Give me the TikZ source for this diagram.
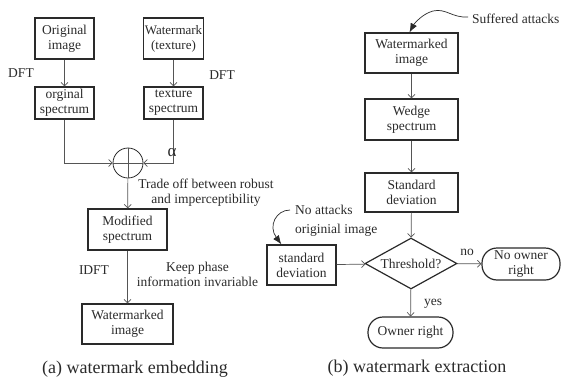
\documentclass[tikz,border=0pt]{standalone}
\usepackage{fontspec}
\setmainfont{Liberation Serif}
\usetikzlibrary{arrows.meta,shapes.geometric,calc}
\definecolor{ink}{HTML}{2A2A2A}
\definecolor{wire}{HTML}{555555}
\begin{document}
\begin{tikzpicture}[x=1pt,y=-1pt,
  txt/.style={font=\fontsize{13.5}{15}\selectfont, text=ink, align=center, inner sep=0pt},
  box/.style={txt, draw=ink, line width=1.3pt, minimum width=#1, inner sep=1pt},
  box/.default=59pt,
  conn/.style={draw=wire, line width=0.7pt, -{Straight Barb[length=3.5pt,width=7pt,line width=0.7pt]}},
  plain/.style={draw=wire, line width=0.7pt},
  curvy/.style={draw=ink, line width=0.7pt, -{Latex[length=9pt,width=7pt]}},
  captext/.style={font=\fontsize{18}{20}\selectfont, text=ink, inner sep=0pt}
]
\useasboundingbox (0,0) rectangle (562,383);

% ---------- (a) embedding ----------
\node[box, minimum height=41pt] (orig) at (64.5,38.5) {Original\\image};
\node[box, minimum height=41pt, font=\fontsize{13}{15}\selectfont] (wm) at (173.5,38.5) {Watermark\\(texture)};
\node[box, minimum height=32pt] (ospec) at (64.5,103) {orginal\\spectrum};
\node[box, minimum height=32pt] (tspec) at (173.5,103) {texture\\spectrum};
\node[circle, draw=ink, line width=0.8pt, minimum size=30pt, inner sep=0pt] (plus) at (128,163) {};
\draw[plain] (plus.north) -- (plus.south);
\draw[plain] (plus.west) -- (plus.east);
\node[box=79pt, minimum height=41pt] (mod) at (127.5,229.5) {Modified\\spectrum};
\node[box=91pt, minimum height=40pt] (wimg) at (127.5,324) {Watermarked\\image};

\draw[conn] (orig) -- (ospec);
\draw[conn] (wm) -- (tspec);
\node[txt] (dft1) at (21,73) {DFT};
\node[txt] (dft2) at (222,75) {DFT};
\draw[conn] (ospec.south) |- (plus.west);
\draw[conn] (tspec.south) |- (plus.east);
\node[txt, font=\fontsize{17}{17}\selectfont] (alpha) at (172,153) {α};
\draw[conn] (plus) -- (mod);
\node[txt] (trade) at (206,193) {Trade off between robust\\and imperceptibility};
\draw[conn] (mod) -- (wimg);
\node[txt] (idft) at (94,270) {IDFT};
\node[txt] (keep) at (197.5,274.5) {Keep phase\\information invariable};
\node[captext] (capa) at (135,369) {(a) watermark embedding};

% ---------- (b) extraction ----------
\node[box=93pt, minimum height=40pt] (rwimg) at (411.5,53) {Watermarked\\image};
\node[box=93pt, minimum height=41pt] (wedge) at (411.5,119.5) {Wedge\\spectrum};
\node[box=93pt, minimum height=39pt] (sd) at (411.5,192.5) {Standard\\deviation};
\node[txt, draw=ink, line width=1.2pt, shape=diamond, aspect=1.8, minimum width=92pt, minimum height=51pt] (thr) at (411,263.5) {Threshold?};
\node[txt, draw=ink, line width=1.2pt, rounded corners=15pt, minimum width=78pt, minimum height=32pt] (nor) at (521,264) {No owner\\right};
\node[txt, draw=ink, line width=1.2pt, rounded corners=15pt, minimum width=85pt, minimum height=31pt] (own) at (410.5,332.5) {Owner right};
\node[box=69pt, minimum height=40pt] (lsd) at (301.5,265) {standard\\deviation};

\draw[conn] (rwimg) -- (wedge);
\draw[conn] (wedge) -- (sd);
\draw[conn] (sd) -- (thr);
\draw[conn] (lsd) -- (thr);
\draw[conn] (thr) -- (nor);
\draw[conn] (thr) -- (own);
\node[txt] (no) at (467,252) {no};
\node[txt] (yes) at (433,304) {yes};

\node[txt, anchor=west] (suf) at (472,19) {Suffered attacks};
\draw[curvy] ($(suf.west)+(-4,-2)$) .. controls (452,18) and (446,8) .. (433,11)
   .. controls (422,14) and (414,24) .. ($(rwimg.north)+(-2,0)$);

\node[txt, align=left, anchor=north west, font=\fontsize{13.5}{19}\selectfont] (noatt) at (295,205) {No attacks\\originial image};
\draw[curvy] (290,210) .. controls (276,210) and (268,226) .. ($(lsd.north west)+(15,0)$);

\node[captext] (capb) at (417,368) {(b) watermark extraction};
\end{tikzpicture}
\end{document}
